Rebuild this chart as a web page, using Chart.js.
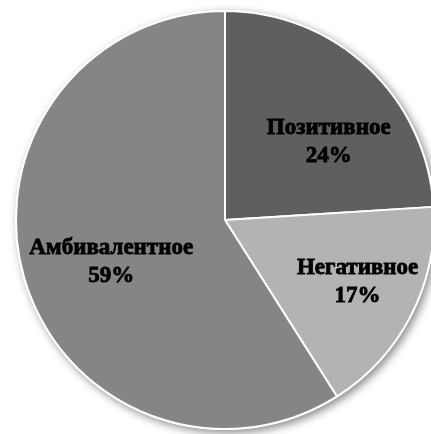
<!DOCTYPE html>
<html>
<head>
<meta charset="utf-8">
<script src="https://cdn.jsdelivr.net/npm/chart.js@4.4.0/dist/chart.umd.min.js"></script>
<style>
  html, body { margin: 0; padding: 0; background: #fff; overflow: hidden; }
  #wrap { position: absolute; left: 0; top: 0; width: 450px; height: 441px; }
</style>
</head>
<body>
<div id="wrap"><canvas id="pie"></canvas></div>
<script>
'use strict';
const categories = ['Позитивное', 'Негативное', 'Амбивалентное'];
const shares = [24, 17, 59];
const sliceColors = ['#5f5f5f', '#b3b3b3', '#858585'];

// label placement: fraction of radius and angle shift (degrees) per slice
const labelRadius = [0.62, 0.70, 0.58];
const labelShift = [10, -2, -4];

const shadowPlugin = {
    id: 'pieShadow',
    beforeDatasetsDraw(chart) {
        const arc = chart.getDatasetMeta(0).data[0];
        if (!arc) return;
        const ctx = chart.ctx;
        ctx.save();
        ctx.shadowColor = 'rgba(0,0,0,0.45)';
        ctx.shadowBlur = 9;
        ctx.shadowOffsetX = 3;
        ctx.shadowOffsetY = 3;
        ctx.fillStyle = '#ffffff';
        ctx.beginPath();
        ctx.arc(arc.x, arc.y, arc.outerRadius + 1, 0, Math.PI * 2);
        ctx.fill();
        ctx.restore();
    }
};

const labelPlugin = {
    id: 'sliceLabels',
    afterDatasetsDraw(chart) {
        const ctx = chart.ctx;
        const meta = chart.getDatasetMeta(0);
        ctx.save();
        ctx.font = 'bold 23px "Liberation Serif", "Times New Roman", serif';
        ctx.textAlign = 'center';
        ctx.textBaseline = 'middle';
        ctx.fillStyle = '#000';
        ctx.strokeStyle = '#000';
        ctx.lineWidth = 0.8;
        meta.data.forEach((arc, i) => {
            const mid = (arc.startAngle + arc.endAngle) / 2 + labelShift[i] * Math.PI / 180;
            const r = arc.outerRadius * labelRadius[i];
            const x = arc.x + Math.cos(mid) * r;
            const y = arc.y + Math.sin(mid) * r;
            const lines = [categories[i], shares[i] + '%'];
            lines.forEach((t, j) => {
                const ly = y + (j - 0.5) * 28;
                ctx.fillText(t, x, ly);
                ctx.strokeText(t, x, ly);
            });
        });
        ctx.restore();
    }
};

new Chart(document.getElementById('pie'), {
    type: 'pie',
    data: {
        labels: categories,
        datasets: [{
            data: shares,
            backgroundColor: sliceColors,
            borderColor: '#ffffff',
            borderWidth: 2
        }]
    },
    options: {
        responsive: true,
        maintainAspectRatio: false,
        animation: false,
        layout: { padding: { left: 15, right: 15, top: 10, bottom: 11 } },
        plugins: { legend: { display: false }, tooltip: { enabled: false } }
    },
    plugins: [shadowPlugin, labelPlugin]
});
</script>
</body>
</html>
